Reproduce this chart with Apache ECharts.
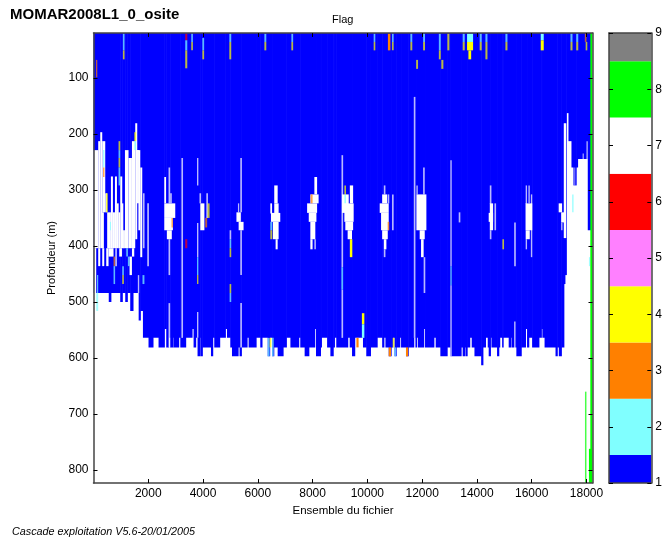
<!DOCTYPE html>
<html><head><meta charset="utf-8">
<style>html,body{margin:0;padding:0;background:#fff}#c{width:665px;height:541px}</style>
<script src="https://cdn.jsdelivr.net/npm/echarts@6/dist/echarts.min.js"></script>
</head><body><div id="c"></div>
<script>
const titleText = 'MOMAR2008L1_0_osite';
const subtitleText = 'Flag';
const xName = 'Ensemble du fichier';
const yName = 'Profondeur (m)';
const footerText = 'Cascade exploitation V5.6-20/01/2005';
const xTicks = [2000,4000,6000,8000,10000,12000,14000,16000,18000];
const yTicks = [100,200,300,400,500,600,700,800];
const flagTicks = [1,2,3,4,5,6,7,8,9];
const flagColors = ['#0000ff','#80ffff','#ff8000','#ffff00','#ff80ff','#ff0000','#ffffff','#00ff00','#808080'];
const flagBands = [[1,1.5],[1.5,2.5],[2.5,3.5],[3.5,4.5],[4.5,5.5],[5.5,6.5],[6.5,7.5],[7.5,8.5],[8.5,9]];

// [first ensemble, deepest good cell (m)] : each step runs up to the next one
const bottomProfile = [[1,484],[558,500],[632,484],[977,500],[1050,484],[1160,500],[1233,484],[1342,516],[1440,484],[1650,533],[1708,516],[1806,564],
[2010,581],[2170,564],[2376,581],[2585,548],[2657,581],[2742,564],[2800,581],[2900,564],[2925,581],[3107,564],[3170,581],[3363,564],[3596,548],[3655,581],[3728,564],[3800,597],[3874,564],[3900,597],[3972,581],[4290,597],[4350,564],[4410,581],[4605,564],[4813,548],[4875,564],[4995,581],[5057,597],[5277,581],[5335,597],[5397,564],[5420,581],[5605,564],[5665,581],[5935,564],[6090,581],[6150,564],[6360,597],[6430,564],[6520,597],[6580,581],[6725,597],[6920,581],[7040,564],[7190,581],[7490,564],[7550,581],[7710,597],[7860,581],[8075,548],[8125,597],[8285,581],[8320,564],[8530,581],[8650,597],[8750,581],[8795,564],[8865,581],[9280,564],[9355,581],[9440,597],[9535,564],[9840,581],[9960,597],[10110,581],[10355,564],[10540,581],[10600,564],[10660,581],[10780,597],[10865,581],[10925,564],[10990,597],[11050,581],[11180,564],[11230,581],[11410,597],[11490,581],[11690,564],[11755,581],[11790,564],[11840,581],[12055,548],[12105,581],[12425,564],[12495,581],[12665,597],[12910,581],[13030,597],[13420,581],[13480,597],[13545,581],[13580,597],[13640,581],[13735,564],[13810,581],[13910,597],[14155,613],[14215,581],[14310,564],[14395,581],[14430,597],[14490,564],[14530,581],[14735,597],[14795,581],[14830,564],[14920,581],[14955,564],[15160,581],[15225,564],[15260,581],[15345,535],[15405,581],[15440,597],[15615,581],[15770,548],[15830,581],[15890,564],[16015,581],[16260,564],[16350,548],[16390,564],[16470,581],[16870,597],[16930,581],[16990,597],[17080,581],
[17171,468],[17210,452],[17262,163],[17343,213],[17452,260],[17525,292],[17620,260],[17672,245],[18047,372],[18146,20],[18220,20]];

// missing cells inside the profile: [ensemble from, to, depth from, to]
const whiteGaps = [
[1,173,229,404],[173,247,213,404],[247,320,197,404],[320,430,213,340],[310,380,340,404],[430,500,306,340],[500,637,340,404],[637,710,276,404],[710,784,340,404],[784,857,276,404],[850,920,324,404],[910,980,340,404],[977,1050,276,404],[1020,1090,324,404],[1080,1149,372,404],[1149,1280,229,404],[1280,1404,243,404],[1404,1525,213,404],[1525,1598,181,388],[1590,1660,229,324],[1640,1708,229,372],[1708,1781,260,420],[1806,1865,306,404],[1963,2025,324,436],
[1,100,404,484],[173,247,404,436],[320,393,404,436],[466,550,404,436],[550,733,404,419],[794,857,404,436],[941,1040,404,419],[1317,1404,419,452],[1404,1489,404,419],[1620,1670,452,484],
[2585,2650,277,324],[2740,2800,260,324],[2800,2860,306,324],[2585,2986,324,350],[2585,2900,350,372],[2680,2860,372,388],[2740,2800,388,452],[2740,2800,502,581],[3210,3270,243,564],[3780,3830,243,292],[3780,3830,359,420],[3780,3830,518,564],
[3870,3930,306,324],[3900,4050,324,372],[4120,4180,306,350],[4970,5030,372,388],[5275,5320,324,340],[5220,5380,340,357],[5300,5480,357,372],[5360,5420,243,340],[5360,5420,372,452],[5360,5420,502,581],
[6456,6520,324,342],[6600,6725,292,324],[6600,6760,324,342],[6480,6820,341,357],[6555,6760,357,388],[6650,6725,388,406],
[8065,8165,277,308],[7918,8220,308,324],[7800,8165,324,341],[7860,8140,341,357],[7918,8100,357,388],[7918,8000,388,406],[8065,8120,388,406],
[9055,9115,238,438],[9055,9115,478,564],[9075,9320,308,341],[9360,9480,292,324],[9160,9500,324,357],[9195,9480,357,372],[9280,9440,372,388],
[10600,10660,292,308],[10540,10720,308,324],[10740,10800,308,324],[10450,10780,324,341],[10500,10780,341,372],[10540,10745,372,388],[10600,10695,388,406],[10600,10660,406,420],[10900,10960,308,372],
[11695,11755,134,564],[11790,11840,292,308],[12035,12095,260,308],[11790,12155,308,372],[11910,12095,372,388],[11960,12055,388,420],[12055,12115,420,484],
[13030,13080,247,436],[13030,13080,470,597],[13335,13395,340,358],[14470,14530,292,325],[14470,14590,324,372],[14640,14700,324,372],[14430,14590,341,357],[14470,14530,372,388],[15360,15420,358,436],
[15780,15830,292,325],[15880,15930,292,324],[15775,16020,324,372],[15780,15930,372,388],[15780,15830,388,406],[15970,16020,308,420],
[16985,17110,324,340],[17075,17195,340,358],[17075,17125,358,372],[17171,17262,181,386],[17560,17590,260,292],[17860,17900,235,245],[18000,18047,213,245]
];

// flagged cells: [ensemble from, to, depth from, to, flag]
const flagCells = [
[90,140,68,99,3],
[1075,1135,21,51,2],[1075,1135,51,67,4],
[3350,3425,21,33,6],[3350,3425,33,51,2],[3350,3425,51,83,4],[3570,3630,21,36,2],[3570,3630,36,51,4],[3975,4040,29,51,2],[3975,4040,51,67,4],
[4960,5030,21,36,2],[4960,5030,36,67,4],[6240,6310,21,36,2],[6240,6310,36,51,4],[7225,7290,21,36,2],[7225,7290,36,51,4],
[10230,10290,21,36,2],[10230,10290,36,51,4],[10750,10840,21,51,3],[10900,10960,21,36,2],[10900,10960,36,51,4],[11570,11640,21,36,2],[11570,11640,36,51,4],[12035,12105,21,36,2],[12035,12105,36,51,4],
[12610,12680,21,51,2],[12610,12680,51,67,4],[12920,12995,21,51,4],[13480,13555,21,36,2],[13480,13555,36,51,4],[13640,13860,21,36,2],[13640,13860,36,51,4],[13690,13790,51,67,4],
[14100,14175,21,36,2],[14100,14175,36,51,4],[14310,14385,21,36,2],[14310,14385,36,67,4],[15040,15115,21,36,2],[15040,15115,36,51,4],[16330,16440,21,33,2],[16330,16440,33,51,4],
[17415,17490,21,36,2],[17415,17490,36,51,4],[17625,17700,21,36,2],[17625,17700,36,51,4],[17940,18000,21,36,3],[17970,18030,36,51,4],
[11780,11850,68,84,4],[12700,12775,68,84,4],
[350,400,229,260,2],[350,400,260,277,3],[460,520,306,340,4],[915,977,213,229,4],[915,977,229,243,2],[915,977,243,260,4],[915,977,260,292,2],
[1490,1560,197,213,4],[1490,1560,213,229,2],[600,640,357,372,2],[733,790,419,436,3],[733,790,436,468,2],[1050,1110,436,452,2],[1050,1110,452,468,4],[1196,1258,404,419,2],[1258,1317,419,436,2],[130,173,452,484,2],[100,173,484,516,2],[1790,1860,452,468,2],
[2850,2900,350,367,3],[4165,4240,324,350,4],[4080,4150,350,367,3],[3350,3425,388,404,6],[3780,3830,420,452,2],[3780,3830,452,468,4],
[4970,5030,388,404,2],[4970,5030,404,420,4],[4970,5030,468,484,4],[4970,5030,484,500,2],
[6456,6530,357,372,2],[6456,6530,372,388,4],[7930,8000,308,324,3],[9160,9220,292,308,4],[9160,9220,308,324,2],[9360,9450,388,420,4],[10740,10800,357,372,3],
[14930,14990,388,406,4],[9050,9115,438,478,2],[13030,13080,436,470,2],
[6360,6430,564,597,2],[6430,6495,564,581,4],[6520,6580,564,597,2],[9600,9680,564,581,3],[9800,9890,520,540,4],[9800,9890,540,564,2],[10780,10865,581,597,3],[10925,10990,564,581,4],[10990,11050,581,597,2],[11410,11490,581,597,3],
[17475,17530,308,340,2],[18090,18130,420,436,2],
[17945,18000,660,823,8],[18090,18170,762,823,8],[18140,18220,20,823,8]
];

const cells = [];
bottomProfile.slice(0,-1).forEach((s,i)=>cells.push([s[0],bottomProfile[i+1][0],20,s[1],1]));
whiteGaps.forEach(g=>cells.push([g[0],g[1],g[2],g[3],7]));
flagCells.forEach(f=>cells.push(f));

const drawCell = (params, api) => {
  const a = api.coord([api.value(0), api.value(2)]);
  const b = api.coord([api.value(1), api.value(3)]);
  const cs = params.coordSys;
  const flag = api.value(4);
  const x0 = Math.max(a[0], cs.x), x1 = Math.min(b[0], cs.x + cs.width);
  const span = api.value(1) - api.value(0);
  const solid = flag === 1;
  const narrow = !solid && span < (flag === 7 ? 64 : 78);
  return {type:'rect', shape:{x:x0, y:a[1], width:x1-x0 + (solid ? 0.6 : 0), height:b[1]-a[1]},
    style:{fill:flagColors[flag-1], opacity: narrow ? 0.72 : 1}};
};
const drawBand = (params, api) => {
  const a = api.coord([0, api.value(1)]);
  const b = api.coord([1, api.value(0)]);
  return {type:'rect', shape:{x:a[0], y:a[1], width:b[0]-a[0], height:b[1]-a[1]},
    style:{fill:flagColors[params.dataIndex]}};
};

const font = 'Liberation Sans';
const axisLine = {show:true, onZero:false, lineStyle:{color:'#444', width:1.5}};
const tick = (vals) => ({show:true, inside:true, length:4, lineStyle:{color:'#000', width:1}, customValues:vals});
const lab = (vals, m) => ({color:'#000', fontFamily:font, fontSize:12, margin:m, customValues:vals, formatter:(v)=>String(v)});

const chart = echarts.init(document.getElementById('c'), null, {renderer:'canvas'});
chart.setOption({
  animation:false,
  backgroundColor:'#fff',
  title:[
    {text:titleText, left:10, top:7, padding:0, textStyle:{fontFamily:font, fontSize:15, fontWeight:'bold', color:'#000'}},
    {text:subtitleText, left:332, top:14, padding:0, textStyle:{fontFamily:font, fontSize:11, fontWeight:'normal', color:'#000'}},
    {text:footerText, left:12, top:526, padding:0, textStyle:{fontFamily:font, fontSize:10.8, fontStyle:'italic', fontWeight:'normal', color:'#000'}}
  ],
  grid:[
    {left:93.5, top:33, width:499, height:450},
    {left:609, top:33, width:43, height:450}
  ],
  xAxis:[
    {type:'value', gridIndex:0, min:1, max:18220, position:'bottom', z:10, name:xName, nameLocation:'middle', nameGap:18,
     nameTextStyle:{fontFamily:font, fontSize:11.5, color:'#000'},
     axisLine, axisTick:tick(xTicks), axisLabel:lab(xTicks,5), splitLine:{show:false}},
    {type:'value', gridIndex:0, min:1, max:18220, position:'top', z:10,
     axisLine, axisTick:tick(xTicks), axisLabel:{show:false}, splitLine:{show:false}},
    {type:'value', gridIndex:1, min:0, max:1, position:'bottom', z:10, axisLine, axisTick:{show:false}, axisLabel:{show:false}, splitLine:{show:false}},
    {type:'value', gridIndex:1, min:0, max:1, position:'top', z:10, axisLine, axisTick:{show:false}, axisLabel:{show:false}, splitLine:{show:false}}
  ],
  yAxis:[
    {type:'value', gridIndex:0, inverse:true, min:20, max:823, position:'left', z:10, name:yName, nameLocation:'middle', nameGap:33, nameRotate:90,
     nameTextStyle:{fontFamily:font, fontSize:11, color:'#000'},
     axisLine, axisTick:tick(yTicks), axisLabel:lab(yTicks,5), splitLine:{show:false}},
    {type:'value', gridIndex:0, inverse:true, min:20, max:823, position:'right', z:10,
     axisLine, axisTick:tick(yTicks), axisLabel:{show:false}, splitLine:{show:false}},
    {type:'value', gridIndex:1, min:1, max:9, position:'right', z:10,
     axisLine, axisTick:tick(flagTicks), axisLabel:lab(flagTicks,4), splitLine:{show:false}},
    {type:'value', gridIndex:1, min:1, max:9, position:'left', z:10,
     axisLine, axisTick:tick(flagTicks), axisLabel:{show:false}, splitLine:{show:false}}
  ],
  series:[
    {type:'custom', name:'Flag', xAxisIndex:0, yAxisIndex:0, clip:true, silent:true,
     renderItem:drawCell, encode:{x:[0,1], y:[2,3]}, data:cells},
    {type:'custom', name:'Legend', xAxisIndex:2, yAxisIndex:2, clip:true, silent:true,
     renderItem:drawBand, encode:{y:[0,1]}, data:flagBands}
  ]
});
</script></body></html>
